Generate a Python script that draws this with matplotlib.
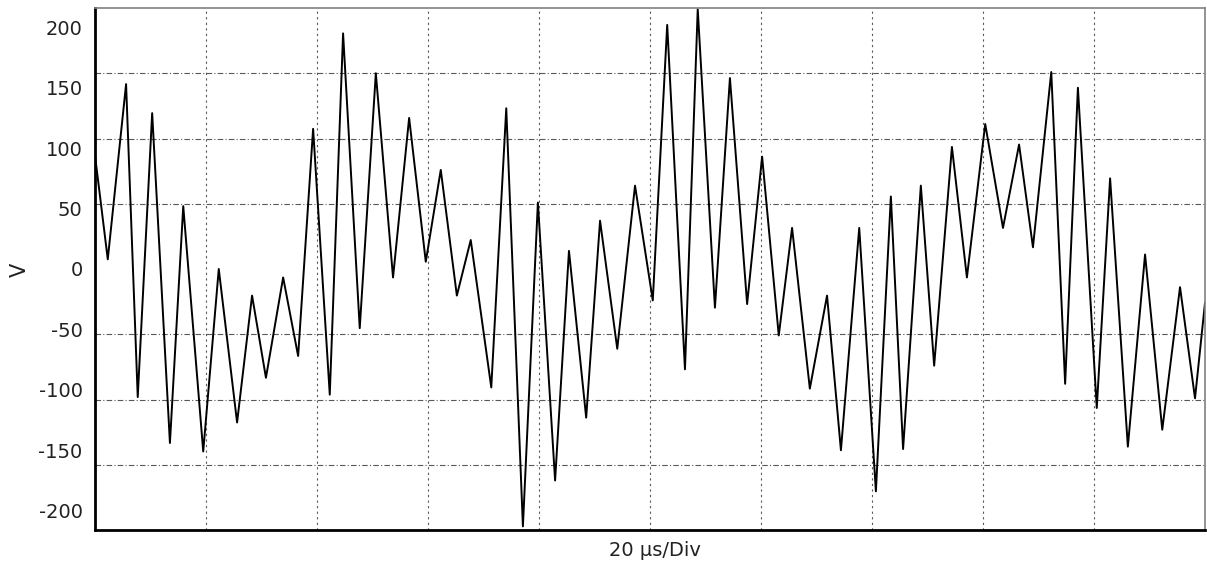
import numpy as np
import matplotlib
matplotlib.use("Agg")
import matplotlib.pyplot as plt

# Trace: time (us) and voltage (V) at each turning point
t_us = [0.0, 2.3, 5.6, 7.7, 10.3, 13.5, 15.9, 19.5, 22.3, 25.6, 28.3, 30.8,
        33.9, 36.6, 39.3, 42.3, 44.7, 47.7, 50.6, 53.7, 56.6, 59.6, 62.3, 65.2,
        67.7, 71.4, 74.1, 77.1, 79.8, 82.9, 85.4, 88.5, 91.0, 94.1, 97.3, 100.5,
        103.1, 106.3, 108.6, 111.7, 114.4, 117.5, 120.2, 123.2, 125.6, 128.8,
        131.9, 134.4, 137.7, 140.7, 143.4, 145.6, 148.8, 151.2, 154.4, 157.1,
        160.4, 163.6, 166.5, 169.0, 172.3, 174.8, 177.1, 180.5, 182.9, 186.1,
        189.2, 192.3, 195.5, 198.2, 200.0]
volts = [94, 8, 153, -106, 129, -144, 52, -151, 0, -127, -22, -90,
         -7, -72, 116, -104, 195, -49, 162, -7, 125, 6, 82, -22,
         24, -98, 133, -213, 55, -175, 15, -123, 40, -66, 69, -26,
         202, -83, 215, -32, 158, -29, 93, -55, 34, -99,
         -22, -150, 34, -184, 60, -149, 69, -80, 101, -7,
         120, 34, 103, 18, 163, -95, 150, -115, 75, -147,
         12, -133, -15, -107, -28]

y_labels = [-200, -150, -100, -50, 0, 50, 100, 150, 200]
div_us = 20      # time per division
div_v = 54       # volts per vertical division (8 divisions)

fig = plt.figure(figsize=(12.07, 5.67), dpi=100)
ax = fig.add_axes([95 / 1207, 1 - 530 / 567, 1110 / 1207, 522 / 567])

ax.plot(t_us, volts, color="black", lw=1.4)

ax.set_xlim(0, 10 * div_us)
ax.set_ylim(-4 * div_v, 4 * div_v)

ax.set_xticks(np.arange(div_us, 10 * div_us, div_us))
ax.set_xticklabels([])
ax.set_yticks(y_labels)
ax.set_yticklabels([str(v) for v in y_labels])
ax.set_yticks(np.arange(-3 * div_v, 4 * div_v, div_v), minor=True)
ax.tick_params(axis="both", which="both", length=0)
ax.tick_params(axis="y", pad=9, labelsize=14, labelcolor="#222222")

grid_style = dict(color="0.35", lw=0.8, linestyle=(0, (5, 2, 1, 2)))
ax.grid(False)
ax.yaxis.grid(True, which="minor", **grid_style)
ax.xaxis.grid(True, which="major", color="0.35", lw=0.8, linestyle=(0, (2, 3)))

for side in ["left", "bottom"]:
    ax.spines[side].set_linewidth(2)
    ax.spines[side].set_color("black")
for side in ["top", "right"]:
    ax.spines[side].set_linewidth(1.2)
    ax.spines[side].set_color("0.5")

fig.text(20 / 1207, 1 - 270 / 567, "V", rotation=90, fontsize=15,
         ha="center", va="center", color="#222222")
fig.text(655 / 1207, 1 - 550 / 567, "20 µs/Div", fontsize=14,
         ha="center", va="center", color="#222222")

fig.savefig("out.png", dpi=100)
